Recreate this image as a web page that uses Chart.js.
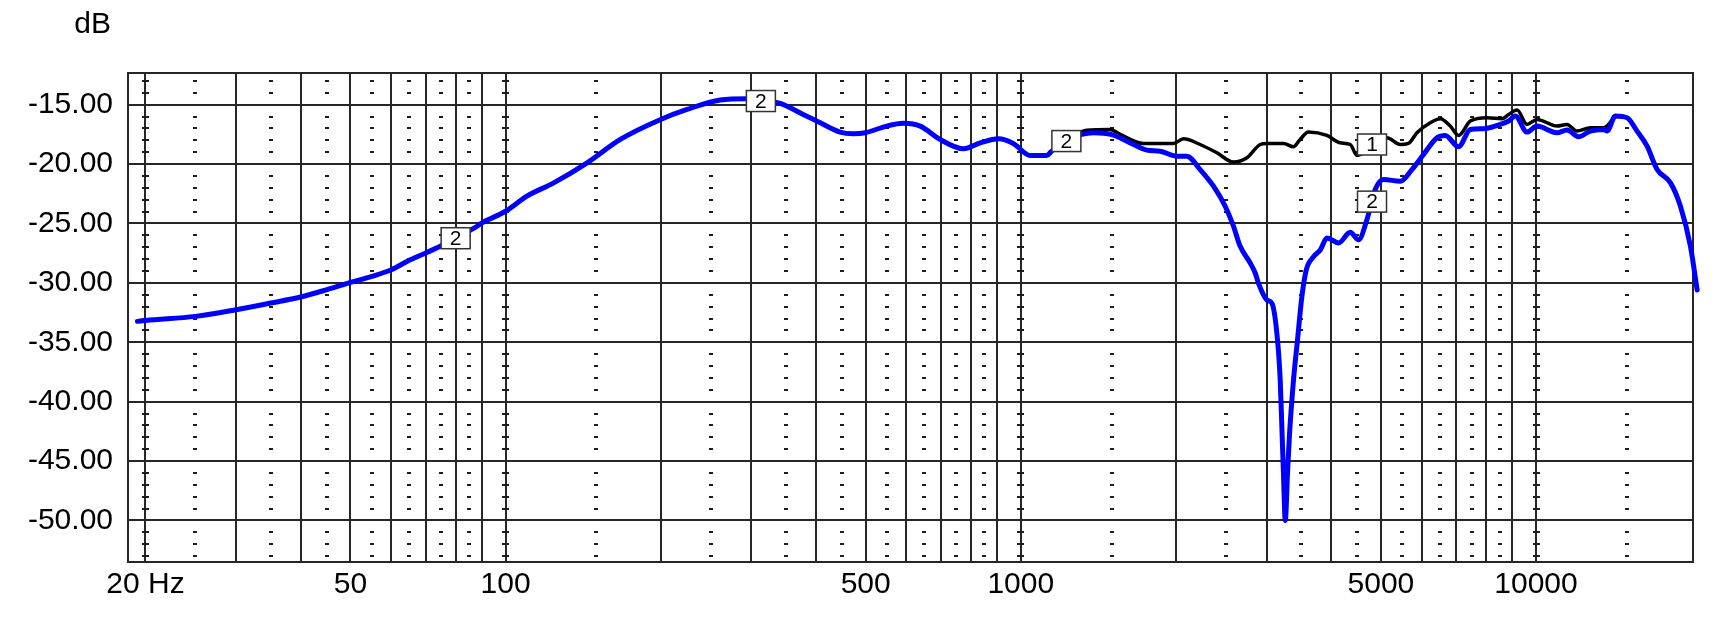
<!DOCTYPE html>
<html>
<head>
<meta charset="utf-8">
<script src="https://cdn.jsdelivr.net/npm/chart.js@4.4.1/dist/chart.umd.min.js"></script>
<style>
  html, body { margin: 0; padding: 0; background: #fff; }
  canvas { display: block; }
</style>
</head>
<body>
<canvas id="freqChart" width="1725" height="631"></canvas>
<script>
// curve 2 (blue) and curve 1 (black), Hz / dB
const freqBlue = [19.3, 20, 25, 30, 35, 40, 45, 50, 55, 60, 65, 70, 75, 80, 87, 90, 100, 110, 124, 144,
    167, 200, 225, 261, 295, 341, 378, 408, 446, 473, 499, 549, 592, 638, 697, 774, 834, 905, 967, 1043,
    1123, 1148, 1230, 1313, 1384, 1496, 1655, 1757, 1865, 2002, 2100, 2229, 2366, 2493, 2587, 2666, 2788, 2851, 2893, 3005,
    3073, 3150, 3188, 3213, 3235, 3261, 3294, 3324, 3383, 3444, 3512, 3581, 3701, 3813, 3929, 4138, 4360, 4524, 4698, 4875,
    5059, 5451, 5743, 6049, 6424, 6667, 7074, 7456, 7912, 8402, 8849, 9118, 9605, 10044, 10985, 11488, 12094, 12748, 13529, 13736,
    14257, 15023, 15710, 16430, 17180, 18240, 19070, 19940, 20550];
const dbBlue = [-33.24, -33.16, -32.82, -32.26, -31.70, -31.19, -30.57, -29.96, -29.45, -28.89, -28.10, -27.48, -26.87, -26.2, -25.37, -24.95, -23.97, -22.70, -21.58, -19.89,
    -17.92, -16.24, -15.40, -14.60, -14.49, -14.89, -15.82, -16.52, -17.31, -17.45, -17.36, -16.80, -16.57, -16.80, -17.92, -18.71, -18.21, -17.87, -18.26, -19.27,
    -19.27, -18.91, -18.0, -17.50, -17.36, -17.50, -18.35, -18.82, -18.91, -19.33, -19.33, -20.46, -21.86, -23.55, -25.23, -26.92, -28.33, -29.17, -30.04, -31.45,
    -31.73, -34.82, -38.19, -42.4, -46.1, -50.0, -46.0, -42.69, -38.19, -34.82, -31.17, -28.92, -27.79, -27.23, -26.22, -26.64, -25.74, -26.37, -24.67, -22.14,
    -21.30, -21.44, -20.46, -19.19, -17.78, -17.59, -18.54, -17.08, -17.02, -16.75, -16.37, -15.95, -17.30, -16.80, -17.36, -17.13, -17.70, -17.22, -17.08, -17.22,
    -15.95, -16.10, -17.22, -18.49, -20.46, -21.58, -23.55, -26.92, -30.6];

const freqBlack = [1230, 1343, 1491, 1559, 1730, 1979, 2069, 2229, 2402, 2587, 2747, 2915, 3005, 3236, 3383, 3485, 3618, 3929, 4169, 4360,
    4492, 4805, 5137, 5451, 5657, 5873, 6234, 6520, 6817, 7074, 7456, 8033, 8590, 8849, 9188, 9605, 10044, 10985, 11488, 12004,
    12748, 13529, 14257];
const dbBlack = [-17.9, -17.14, -17.08, -17.50, -18.26, -18.26, -17.87, -18.35, -19.05, -19.83, -19.47, -18.35, -18.26, -18.26, -18.54, -17.92, -17.30, -17.59, -18.21, -18.35,
    -19.27, -18.6, -17.78, -18.35, -18.26, -17.36, -16.52, -16.18, -16.80, -17.59, -16.38, -16.10, -16.18, -15.82, -15.45, -16.66, -16.24, -16.80, -16.66, -17.22,
    -16.94, -16.94, -15.95];

// curve tags
const tagFreq = [80, 313, 1226, 4805, 4805];
const tagDb = [-26.24, -14.69, -18.06, -18.35, -23.16];
const tagText = ['2', '2', '2', '1', '2'];

// axes
const yTicks = [-15, -20, -25, -30, -35, -40, -45, -50];
const xGrid = [20, 30, 40, 50, 60, 70, 80, 90, 100, 200, 300, 400, 500, 600, 700, 800, 900,
    1000, 2000, 3000, 4000, 5000, 6000, 7000, 8000, 9000, 10000];
const xLabelFreqs = [20, 50, 100, 500, 1000, 5000, 10000];
const xLabelTexts = ['20 Hz', '50', '100', '500', '1000', '5000', '10000'];

const X_MIN = 18.5, X_MAX = 20170, Y_MIN = -53.5, Y_MAX = -12.33;
const FONT = '"Liberation Sans", Arial, sans-serif';
const LINE = '#262626';

Chart.defaults.font.family = FONT;

const paper = {
    id: 'paper',
    beforeDatasetsDraw(chart) {
        const { ctx, chartArea: a, scales: { x, y } } = chart;
        ctx.save();
        ctx.fillStyle = '#1e1e1e';
        const rows = [];
        for (let v = Math.ceil(Y_MIN); v <= Math.floor(Y_MAX); v++) {
            if (v % 5 !== 0) rows.push(y.getPixelForValue(v));
        }
        const cols = [];
        [10, 100, 1000, 10000].forEach(d => {
            [1.5, 2.5, 3.5, 4.5, 5.5, 6.5, 7.5, 8.5].forEach(m => {
                const f = m * d;
                if (f > X_MIN && f < X_MAX) cols.push([x.getPixelForValue(f), 4]);
            });
        });
        [20, 100, 1000, 10000].forEach(f => cols.push([x.getPixelForValue(f), 7]));
        cols.forEach(([px, w]) => {
            rows.forEach(py => ctx.fillRect(Math.round(px - w / 2), Math.round(py) - 1, w, 2));
        });
        ctx.strokeStyle = LINE;
        ctx.lineWidth = 2;
        ctx.strokeRect(a.left, a.top, a.right - a.left, a.bottom - a.top);
        ctx.restore();
    },
    afterDatasetsDraw(chart) {
        const { ctx, scales: { x, y } } = chart;
        ctx.save();
        ctx.font = '21px ' + FONT;
        ctx.textAlign = 'center';
        ctx.textBaseline = 'middle';
        tagFreq.forEach((f, i) => {
            const cx = x.getPixelForValue(f), cy = y.getPixelForValue(tagDb[i]);
            const w = 29, h = 21;
            ctx.fillStyle = '#fff';
            ctx.fillRect(cx - w / 2, cy - h / 2, w, h);
            ctx.strokeStyle = '#333';
            ctx.lineWidth = 1.5;
            ctx.strokeRect(cx - w / 2, cy - h / 2, w, h);
            ctx.fillStyle = '#000';
            ctx.fillText(tagText[i], cx, cy + 1);
        });
        ctx.restore();
    },
    afterDraw(chart) {
        const ctx = chart.ctx;
        ctx.save();
        ctx.font = '30px ' + FONT;
        ctx.fillStyle = '#000';
        ctx.textAlign = 'right';
        ctx.textBaseline = 'alphabetic';
        ctx.fillText('dB', 111, 33);
        ctx.restore();
    }
};

const config = {
    type: 'line',
    data: {
        datasets: [{
            label: '2',
            data: freqBlue.map((f, i) => ({ x: f, y: dbBlue[i] })),
            borderColor: '#0000ff',
            borderWidth: 5,
            pointRadius: 0,
            cubicInterpolationMode: 'monotone',
            borderJoinStyle: 'round',
            borderCapStyle: 'round',
            clip: false,
            order: 0
        }, {
            label: '1',
            data: freqBlack.map((f, i) => ({ x: f, y: dbBlack[i] })),
            borderColor: '#000000',
            borderWidth: 3.5,
            pointRadius: 0,
            cubicInterpolationMode: 'monotone',
            borderJoinStyle: 'round',
            order: 1
        }]
    },
    options: {
        responsive: false,
        devicePixelRatio: 1,
        animation: false,
        events: [],
        layout: { padding: { top: 73, right: 32, bottom: 0, left: 0 } },
        plugins: { legend: { display: false }, tooltip: { enabled: false } },
        scales: {
            x: {
                type: 'logarithmic',
                min: X_MIN,
                max: X_MAX,
                afterBuildTicks: s => { s.ticks = xGrid.map(v => ({ value: v })); },
                afterFit: s => { s.height = 69; },
                grid: { color: LINE, lineWidth: 2, drawTicks: false },
                border: { display: false },
                ticks: {
                    autoSkip: false,
                    maxRotation: 0,
                    minRotation: 0,
                    padding: 5,
                    color: '#000',
                    font: { size: 30 },
                    callback: v => {
                        const i = xLabelFreqs.indexOf(v);
                        return i >= 0 ? xLabelTexts[i] : '';
                    }
                }
            },
            y: {
                min: Y_MIN,
                max: Y_MAX,
                afterBuildTicks: s => { s.ticks = yTicks.map(v => ({ value: v })); },
                afterFit: s => { s.width = 128; },
                grid: { color: LINE, lineWidth: 2, drawTicks: false },
                border: { display: false },
                ticks: {
                    padding: 15,
                    color: '#000',
                    font: { size: 30 },
                    callback: v => v.toFixed(2)
                }
            }
        }
    },
    plugins: [paper]
};

new Chart(document.getElementById('freqChart'), config);
</script>
</body>
</html>
